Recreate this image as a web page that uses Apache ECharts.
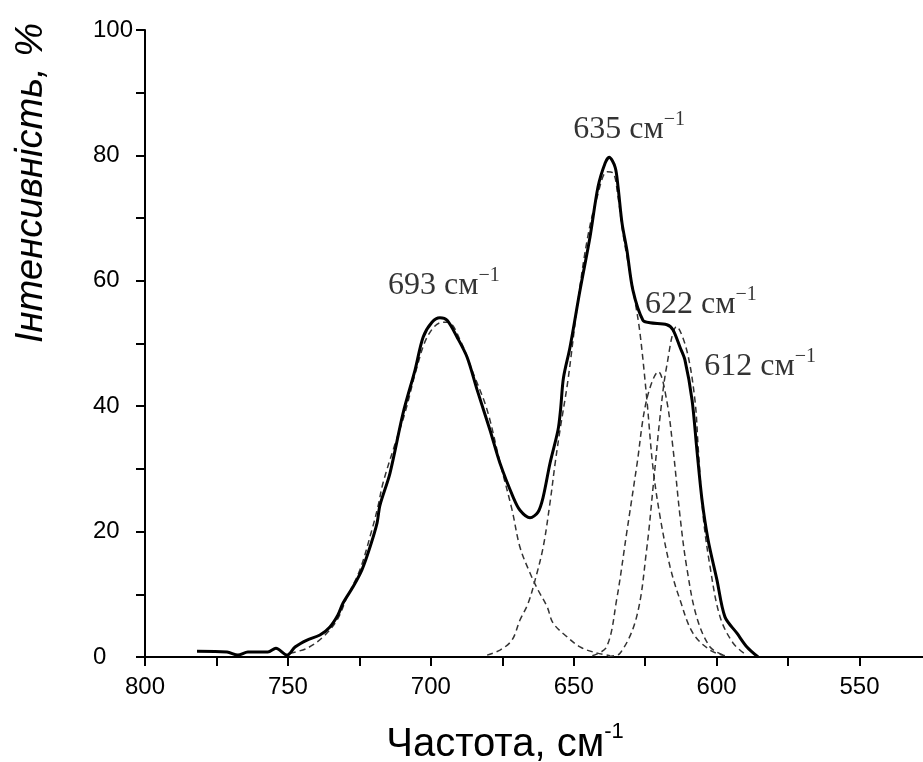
<!DOCTYPE html>
<html>
<head>
<meta charset="utf-8">
<script src="https://cdn.jsdelivr.net/npm/echarts@6/dist/echarts.min.js"></script>
<style>
  html, body { margin: 0; padding: 0; background: #fff; }
  #chart { width: 923px; height: 762px; }
</style>
</head>
<body>
<div id="chart"></div>
<script>
// сумарний спектр (суцільна лінія)
const sumFreq = [781.8, 771.3, 767.5, 764.0, 757.0, 754.2, 750.3, 747.5, 743.3, 738.8, 735.3, 732.5, 730.7, 727.2, 724.1, 721.3, 718.8, 717.8, 714.3, 709.7, 705.5, 702.7, 699.6, 696.8, 694.3, 690.8, 687.3, 683.8, 679.3, 675.8, 671.2, 668.8, 665.3, 662.5, 660.7, 658.3, 655.5, 654.6, 653.6, 651.3, 647.8, 644.3, 641.5, 639.0, 637.6, 635.5, 634.5, 633.1, 631.4, 629.3, 625.8, 623.3, 617.4, 615.3, 612.8, 611.1, 608.6, 606.9, 605.1, 603.0, 599.9, 597.1, 592.9, 589.4, 585.5]
const sumInt = [0.9, 0.8, 0.3, 0.8, 0.8, 1.4, 0.3, 1.6, 2.7, 3.5, 4.8, 6.7, 8.6, 11.2, 13.9, 17.5, 21.4, 24.2, 29.3, 38.9, 45.8, 51.0, 53.4, 54.1, 53.7, 51.0, 47.8, 42.6, 36.2, 30.9, 25.5, 23.4, 22.2, 23.1, 25.5, 30.9, 36.2, 39.5, 44.5, 49.4, 58.5, 67.0, 75.0, 78.8, 79.7, 78.1, 75.0, 69.2, 64.9, 58.5, 53.7, 53.3, 53.0, 52.2, 49.4, 47.4, 41.0, 33.0, 25.0, 18.7, 12.3, 6.4, 3.8, 1.6, 0]

// складові (пунктир)
const band693Freq = [749.3, 743.3, 737.7, 732.8, 729.3, 724.8, 720.6, 718.5, 716.7, 712.5, 709.0, 704.8, 701.3, 696.8, 694.0, 689.8, 685.2, 680.3, 675.8, 671.6, 668.8, 665.3, 662.5, 659.3, 657.2, 652.3, 647.8, 643.2, 637.3]
const band693Int = [0.6, 1.4, 3.2, 5.9, 9.6, 13.9, 20.3, 24.0, 27.8, 34.0, 39.0, 46.3, 51.0, 53.3, 53.4, 50.6, 45.3, 39.4, 31.0, 23.5, 17.5, 13.4, 10.7, 8.0, 5.4, 3.2, 1.6, 0.8, 0.2]

const band635Freq = [680.3, 675.8, 671.6, 668.8, 666.0, 663.5, 660.7, 658.3, 656.5, 654.8, 652.0, 648.8, 645.3, 641.8, 638.3, 636.2, 634.5, 632.8, 630.3, 628.6, 626.8, 624.4, 622.3, 619.8, 616.3, 612.8, 608.3, 602.3, 597.1]
const band635Int = [0.3, 1.1, 2.7, 5.9, 8.5, 12.3, 17.5, 24.6, 30.9, 36.2, 44.2, 55.8, 66.5, 73.4, 77.4, 77.2, 73.4, 67.6, 61.2, 56.9, 51.6, 41.0, 30.3, 22.4, 14.4, 9.1, 3.8, 1.1, 0.2]

const band622Freq = [643.5, 638.5, 635.0, 631.5, 628.0, 624.5, 620.4, 617.5, 615.2, 612.8, 610.5, 607.0, 602.3, 597.7]
const band622Int = [0.2, 1.6, 9.1, 19.7, 30.3, 41.0, 45.5, 41.0, 33.0, 22.4, 14.4, 6.4, 1.6, 0.3]

const band612Freq = [638.0, 633.8, 628.0, 624.5, 622.1, 619.8, 617.5, 614.0, 610.5, 607.6, 606.4, 604.7, 602.3, 598.8, 594.2, 589.5]
const band612Int = [0.1, 0.6, 6.4, 17.1, 27.7, 38.3, 46.3, 52.7, 49.0, 41.0, 33.0, 22.4, 14.4, 6.4, 2.2, 0.3]

// підписи піків
const peakNames = ['693', '635', '622', '612']
const peakLabelFreq = [695.4, 630.6, 605.5, 584.8]
const peakLabelInt = [59.6, 84.4, 56.5, 46.6]

const pairs = (xs, ys) => xs.map((x, i) => [x, ys[i]])

const chart = echarts.init(document.getElementById('chart'))

const dashStyle = {
  color: '#333',
  width: 1.5,
  type: [6, 4]
}

const option = {
  backgroundColor: '#fff',
  animation: false,
  grid: {
    left: 145,
    top: 30,
    width: 786,
    height: 627,
    outerBoundsMode: 'none',
    containLabel: false
  },
  xAxis: {
    type: 'value',
    inverse: true,
    min: 525,
    max: 800,
    interval: 25,
    splitLine: { show: false },
    axisLine: { lineStyle: { color: '#000', width: 2 } },
    axisTick: { length: 9, lineStyle: { color: '#000', width: 2 } },
    axisLabel: {
      margin: 18,
      fontFamily: 'Liberation Sans, Arial, sans-serif',
      fontSize: 24,
      color: '#000',
      formatter: v => (v % 50 === 0 ? String(v) : '')
    }
  },
  yAxis: {
    type: 'value',
    min: 0,
    max: 100,
    interval: 10,
    splitLine: { show: false },
    axisLine: { show: true, lineStyle: { color: '#000', width: 2 } },
    axisTick: { show: true, length: 9, lineStyle: { color: '#000', width: 2 } },
    axisLabel: {
      margin: 52,
      align: 'left',
      fontFamily: 'Liberation Sans, Arial, sans-serif',
      fontSize: 24,
      color: '#000',
      formatter: v => (v % 20 === 0 ? String(v) : '')
    }
  },
  series: [
    { type: 'line', data: pairs(band693Freq, band693Int), showSymbol: false, smooth: 0.35, lineStyle: dashStyle, z: 2 },
    { type: 'line', data: pairs(band635Freq, band635Int), showSymbol: false, smooth: 0.35, lineStyle: dashStyle, z: 2 },
    { type: 'line', data: pairs(band622Freq, band622Int), showSymbol: false, smooth: 0.35, lineStyle: dashStyle, z: 2 },
    { type: 'line', data: pairs(band612Freq, band612Int), showSymbol: false, smooth: 0.35, lineStyle: dashStyle, z: 2 },
    {
      type: 'line',
      data: pairs(sumFreq, sumInt),
      showSymbol: false,
      smooth: 0.3,
      lineStyle: { color: '#000', width: 3 },
      z: 3
    },
    {
      // підписи піків
      type: 'scatter',
      symbolSize: 0,
      data: peakLabelFreq.map((x, i) => ({ value: [x, peakLabelInt[i]], name: peakNames[i] })),
      label: {
        show: true,
        position: 'inside',
        formatter: p => `{n|${p.name} см}{s|−1}`,
        rich: {
          n: {
            fontFamily: 'Liberation Serif, Times New Roman, serif',
            fontSize: 32,
            color: '#000',
            lineHeight: 36,
            verticalAlign: 'bottom'
          },
          s: {
            fontFamily: 'Liberation Serif, Times New Roman, serif',
            fontSize: 20,
            color: '#000',
            lineHeight: 20,
            verticalAlign: 'top'
          }
        }
      },
      z: 5
    }
  ],
  graphic: [
    {
      type: 'text',
      x: 505,
      y: 743,
      style: {
        text: '{a|Частота, см}{b|-1}',
        align: 'center',
        verticalAlign: 'middle',
        rich: {
          a: { fontFamily: 'Liberation Sans, Arial, sans-serif', fontSize: 40, fill: '#000', lineHeight: 44, verticalAlign: 'bottom' },
          b: { fontFamily: 'Liberation Sans, Arial, sans-serif', fontSize: 22, fill: '#000', lineHeight: 22, verticalAlign: 'top' }
        }
      }
    },
    {
      type: 'text',
      x: 31,
      y: 183,
      rotation: Math.PI / 2,
      style: {
        text: 'Інтенсивність, %',
        align: 'center',
        verticalAlign: 'middle',
        fontFamily: 'Liberation Sans, Arial, sans-serif',
        fontStyle: 'italic',
        fontSize: 38,
        fill: '#000'
      }
    }
  ]
}

chart.setOption(option)
window.onresize = function () {
  chart.resize()
}
</script>
</body>
</html>
